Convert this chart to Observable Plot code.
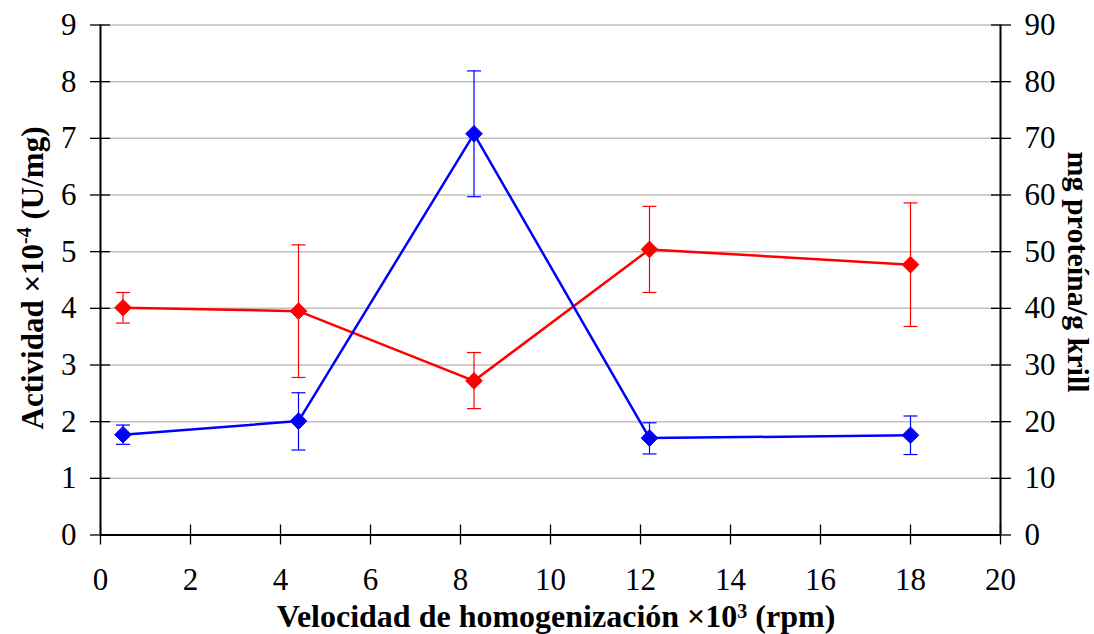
<!DOCTYPE html>
<html>
<head>
<meta charset="utf-8">
<script src="https://cdn.jsdelivr.net/npm/d3@7"></script>
<script src="https://cdn.jsdelivr.net/npm/@observablehq/plot@0.6"></script>
<style>
  html, body { margin: 0; padding: 0; background: white; }
  #chart svg { display: block; font-family: 'Liberation Serif', 'Times New Roman', serif !important; }
  #chart svg text { font-family: 'Liberation Serif', 'Times New Roman', serif !important; }
</style>
</head>
<body>
<div id="chart"></div>
<script>
// Speeds (×10^3 rpm)
const speeds = [0.5, 4.4, 8.3, 12.2, 18];
// Activity ×10^-4 (U/mg) – left axis (blue)
const actividad = [1.77, 2.01, 7.08, 1.71, 1.76];
const actLow    = [1.60, 1.50, 5.97, 1.43, 1.42];
const actHigh   = [1.94, 2.51, 8.19, 1.98, 2.10];
// mg protein / g krill – right axis (red)
const proteina = [40.1, 39.5, 27.2, 50.4, 47.7];
const protLow  = [37.4, 27.8, 22.3, 42.8, 36.8];
const protHigh = [42.8, 51.2, 32.2, 58.0, 58.6];
// tick values
const xTicks = [0, 2, 4, 6, 8, 10, 12, 14, 16, 18, 20];
const yTicks = [0, 1, 2, 3, 4, 5, 6, 7, 8, 9];
const rightTicks = [0, 10, 20, 30, 40, 50, 60, 70, 80, 90];

const ratio = 10; // right axis units per left axis unit

const blue = speeds.map((s, i) => ({x: s, y: actividad[i], lo: actLow[i], hi: actHigh[i]}));
const red = speeds.map((s, i) => ({x: s, y: proteina[i] / ratio, lo: protLow[i] / ratio, hi: protHigh[i] / ratio}));

const capSymbol = {
  draw(context, size) {
    const w = 7;
    context.moveTo(-w, 0);
    context.lineTo(w, 0);
  }
};

const font = "'Liberation Serif', 'Times New Roman', serif";

function errorMarks(data, color) {
  return [
    Plot.ruleX(data, {x: "x", y1: "lo", y2: "hi", stroke: color, strokeWidth: 1.2}),
    Plot.dot(data, {x: "x", y: "lo", symbol: capSymbol, stroke: color, strokeWidth: 1.2, r: 5}),
    Plot.dot(data, {x: "x", y: "hi", symbol: capSymbol, stroke: color, strokeWidth: 1.2, r: 5}),
    Plot.line(data, {x: "x", y: "y", stroke: color, strokeWidth: 2.5}),
    Plot.dot(data, {x: "x", y: "y", symbol: "diamond2", fill: color, stroke: color, strokeWidth: 1, r: 7.5})
  ];
}

const chart = Plot.plot({
  width: 1094,
  height: 634,
  marginLeft: 100,
  marginRight: 94,
  marginTop: 24.5,
  marginBottom: 99.5,
  style: `font-family: ${font}; font-size: 31px; background: white; color: black;`,
  x: {domain: [0, 20], label: null},
  y: {domain: [0, 9], label: null},
  marks: [
    Plot.gridY(yTicks.slice(1), {stroke: "#c0c0c0", strokeOpacity: 1, strokeWidth: 1.5}),
    // bottom axis: labels + outward ticks, plus inward ticks
    Plot.axisX(xTicks, {anchor: "bottom", tickSize: 10, tickPadding: 23, strokeWidth: 1.3, fontSize: 31,
      tickFormat: d => String(d), label: null}),
    Plot.axisX(xTicks, {anchor: "bottom", tickSize: 10, dy: -10, fill: "none", strokeWidth: 1.3, label: null}),
    // left axis
    Plot.axisY(yTicks, {anchor: "left", tickSize: 10, tickPadding: 14, strokeWidth: 1.3, fontSize: 31,
      tickFormat: d => String(d), label: null}),
    Plot.axisY(yTicks, {anchor: "left", tickSize: 10, dx: 10, fill: "none", strokeWidth: 1.3, label: null}),
    // right axis (scaled ×10)
    Plot.axisY(yTicks, {anchor: "right", tickSize: 10, tickPadding: 14, strokeWidth: 1.3, fontSize: 31,
      tickFormat: d => String(rightTicks[yTicks.indexOf(d)]), label: null}),
    Plot.axisY(yTicks, {anchor: "right", tickSize: 10, dx: -10, fill: "none", strokeWidth: 1.3, label: null}),
    // axis lines
    Plot.ruleY([0], {stroke: "black", strokeWidth: 2}),
    Plot.ruleX([0], {stroke: "black", strokeWidth: 2}),
    Plot.ruleX([20], {stroke: "black", strokeWidth: 2}),
    ...errorMarks(red, "#ff0000"),
    ...errorMarks(blue, "#0000ff")
  ]
});

const svg = d3.select(chart);

// Left axis title
const lt = svg.append("text")
  .attr("transform", "translate(43,278) rotate(-90)")
  .attr("text-anchor", "middle")
  .attr("font-weight", "bold")
  .attr("font-size", 31)
  .attr("fill", "black");
lt.append("tspan").text("Actividad ×10");
lt.append("tspan").attr("dy", -12).attr("font-size", 20).text("-4");
lt.append("tspan").attr("dy", 12).text(" (U/mg)");

// Right axis title
svg.append("text")
  .attr("transform", "translate(1068,272) rotate(90)")
  .attr("text-anchor", "middle")
  .attr("font-weight", "bold")
  .attr("font-size", 30)
  .attr("fill", "black")
  .text("mg proteína/g krill");

// Bottom axis title
const bt = svg.append("text")
  .attr("x", 556)
  .attr("y", 627)
  .attr("text-anchor", "middle")
  .attr("font-weight", "bold")
  .attr("font-size", 32)
  .attr("fill", "black");
bt.append("tspan").text("Velocidad de homogenización ×10");
bt.append("tspan").attr("dy", -9).attr("font-size", 20).text("3");
bt.append("tspan").attr("dy", 9).text(" (rpm)");

document.getElementById("chart").appendChild(chart);
</script>
</body>
</html>
